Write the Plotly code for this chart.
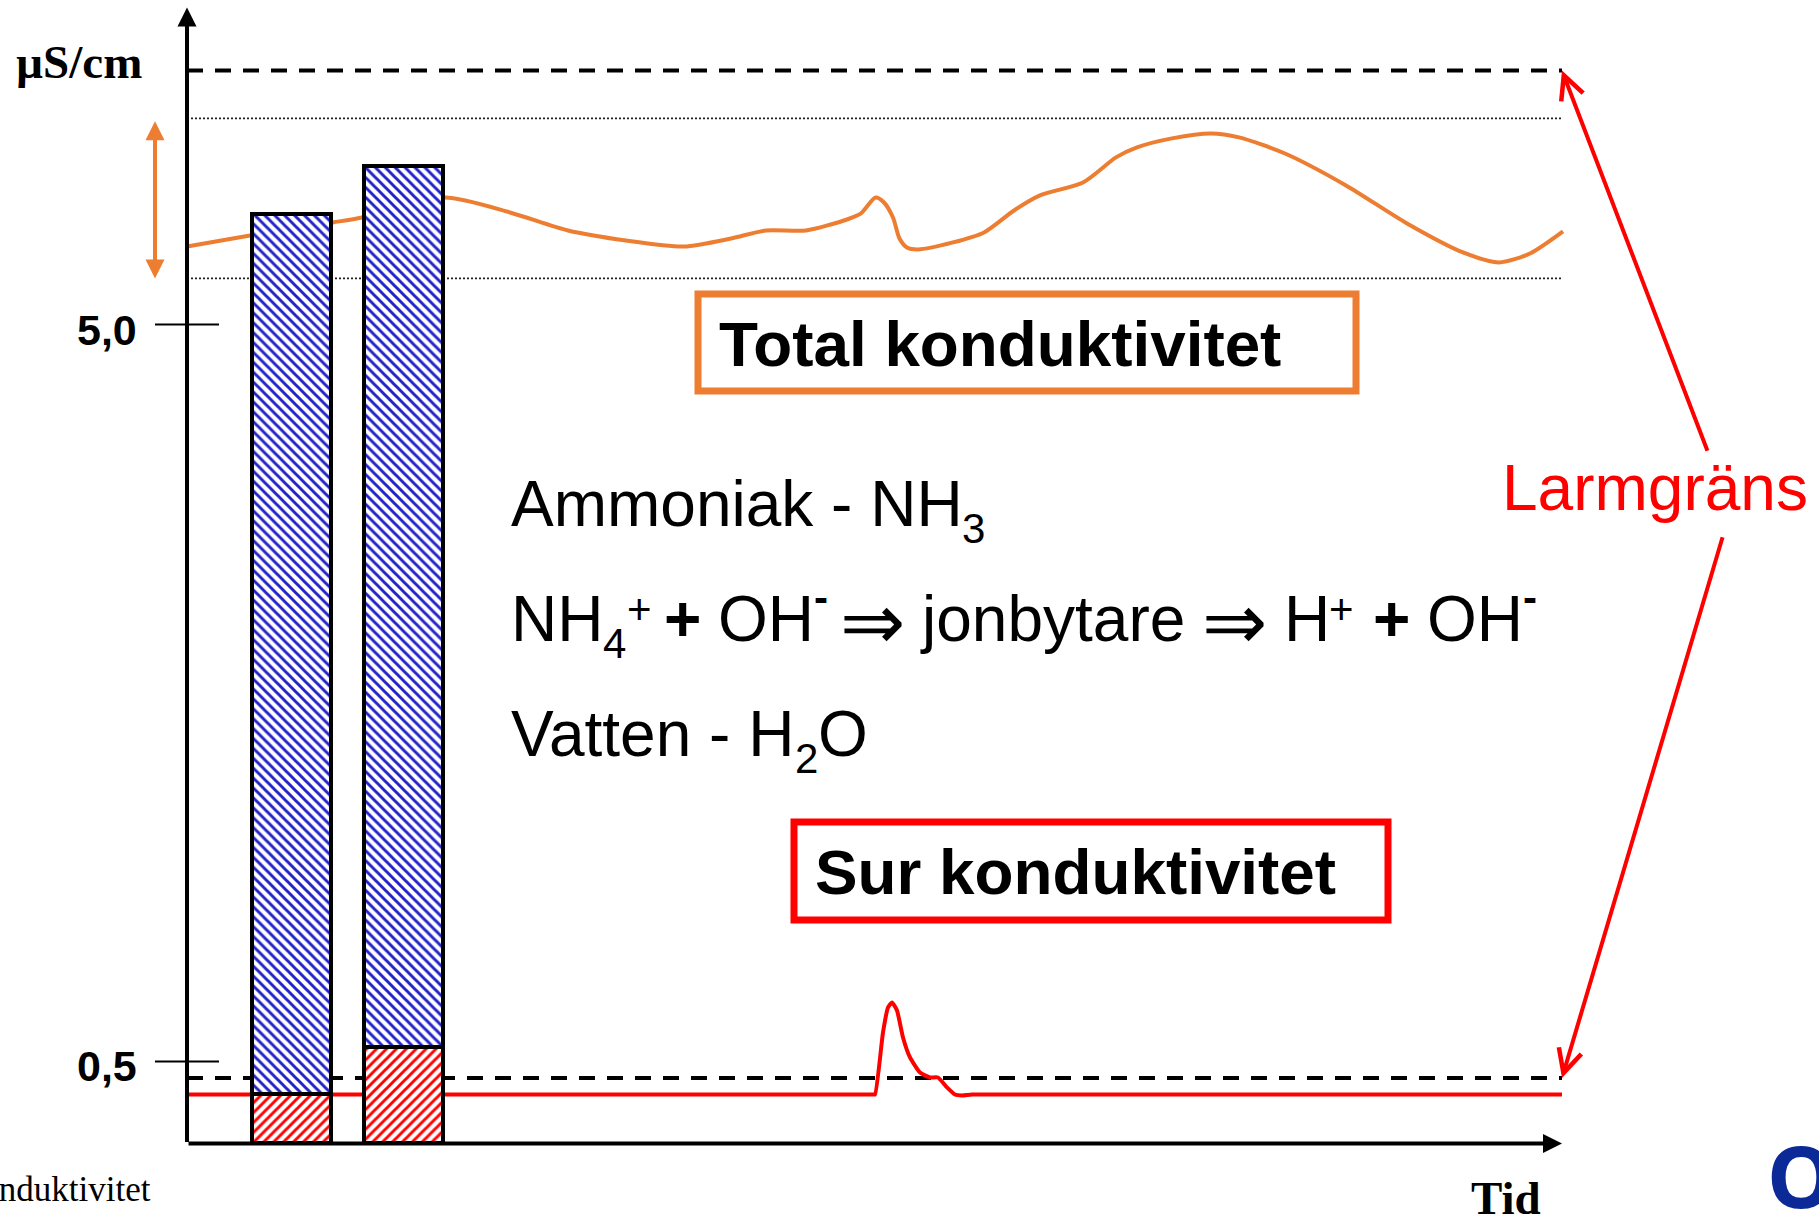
import plotly.graph_objects as go

W, H = 1819, 1218

# ---- data (x: time, arbitrary units; y: µS/cm) ----
total_t = [0, 0.63, 1.46, 1.75, 2.58, 3.23, 3.81, 4.39, 4.97, 5.44, 5.79, 6.19, 6.60, 6.74, 6.885, 6.97, 7.06,
           7.125, 7.20, 7.31, 7.66, 7.97, 8.27, 8.53, 8.96, 9.29, 9.50, 9.85, 10.24, 10.52, 10.98, 11.59,
           12.20, 12.76, 13.12, 13.43, 13.76]
total_v = [5.476, 5.543, 5.623, 5.653, 5.775, 5.684, 5.574, 5.513, 5.476, 5.525, 5.574, 5.574, 5.641, 5.678,
           5.775, 5.745, 5.653, 5.525, 5.470, 5.458, 5.501, 5.562, 5.696, 5.788, 5.867, 6.020, 6.081, 6.136,
           6.166, 6.142, 6.044, 5.849, 5.617, 5.440, 5.379, 5.433, 5.568]
sur_t = [0, 6.0, 6.86, 6.88, 6.96, 7.01, 7.05, 7.10, 7.16, 7.23, 7.33, 7.43, 7.51, 7.60, 7.68, 7.75, 7.85, 8.3, 10.0, 13.75]
sur_v = [0.299, 0.299, 0.299, 0.299, 0.678, 0.830, 0.861, 0.812, 0.647, 0.525, 0.433, 0.403, 0.403, 0.342, 0.299,
         0.293, 0.299, 0.299, 0.299, 0.299]
bar_t = [1.045, 2.16]
bar_sur = [0.30, 0.59]
bar_ammoniak = [5.375, 5.38]
alarm_limits = [6.55, 0.40]
band_limits = [6.258, 5.281]
tick_vals = [5.0, 0.5]
tick_text = ["5,0", "0,5"]
t_end = 13.75
y_top = 6.935

ORANGE = "#ED7D31"
RED = "#FF0000"
BLUE = "#2222C8"
SANS = "Liberation Sans"
SERIF = "Liberation Serif"

# pixel-to-axis frame: the plot area fills the page
x_range = [-1.87, 16.32]
y_range = [-0.455, 6.981]


def px(x):
    return x / W


def py(y):
    return 1 - y / H


fig = go.Figure()

for lim in alarm_limits:
    fig.add_trace(go.Scatter(x=[0, t_end], y=[lim, lim], mode="lines",
                             line=dict(color="black", width=4, dash="16px,12px")))
for lim in band_limits:
    fig.add_trace(go.Scatter(x=[0, t_end], y=[lim, lim], mode="lines",
                             line=dict(color="#222222", width=1.8, dash="2px,2px")))
for v in tick_vals:
    fig.add_trace(go.Scatter(x=[-0.32, 0.32], y=[v, v], mode="lines", line=dict(color="black", width=2)))

fig.add_trace(go.Scatter(x=total_t, y=total_v, mode="lines", line=dict(color=ORANGE, width=4, shape="spline", smoothing=0.7)))
fig.add_trace(go.Scatter(x=sur_t, y=sur_v, mode="lines", line=dict(color=RED, width=4, shape="spline", smoothing=0.5)))

line_style = dict(color="black", width=4)
fig.add_trace(go.Bar(x=bar_t, y=bar_sur, width=0.79, xaxis="x2", yaxis="y2",
                     marker=dict(color="white", opacity=1, line=line_style,
                                 pattern=dict(shape="/", fgcolor=RED, fgopacity=1, bgcolor="white",
                                              fillmode="replace", size=7, solidity=0.42))))
fig.add_trace(go.Bar(x=bar_t, y=bar_ammoniak, width=0.79, xaxis="x2", yaxis="y2",
                     marker=dict(color="white", opacity=1, line=line_style,
                                 pattern=dict(shape="\\", fgcolor=BLUE, fgopacity=1, bgcolor="white",
                                              fillmode="replace", size=7, solidity=0.42))))

ann = []


def text(x, y, s, size, family=SANS, color="black", anchor="left", bold=False):
    if bold:
        s = "<b>" + s + "</b>"
    ann.append(dict(x=px(x), y=py(y), xref="paper", yref="paper",
                    text=s, showarrow=False, xanchor=anchor, yanchor="middle",
                    font=dict(family=family, size=size, color=color)))


def base(x, baseline, s, size, **kw):
    text(x, baseline - 0.3 * size, s, size, **kw)


def arrow(x0, y0, x1, y1, color, width, head, side="end", size=0.95):
    ann.append(dict(x=x1, y=y1, ax=x0, ay=y0, xref="x", yref="y", axref="x", ayref="y", text="",
                    showarrow=True, arrowhead=head, arrowside=side, arrowsize=size,
                    arrowwidth=width, arrowcolor=color, startarrowhead=head, startarrowsize=size,
                    standoff=0, startstandoff=0))


# axes
arrow(0, 0, 0, y_top, "black", 4, 2)
arrow(0, 0, t_end, 0, "black", 4, 2)
# orange span arrow
arrow(-0.32, 6.25, -0.32, 5.28, ORANGE, 4, 2, side="end+start")
# alarm arrows
arrow(15.21, 4.22, t_end, alarm_limits[0], RED, 4, 5, size=1.15)
arrow(15.36, 3.71, t_end, alarm_limits[1], RED, 4, 5, size=1.15)

for v, s, yy in zip(tick_vals, tick_text, [330, 1066]):
    text(138.5, yy, s, 43, anchor="right", bold=True)

text(14, 62, "µS/cm", 47, family=SERIF, bold=True)
text(1469, 1198, "Tid", 47, family=SERIF, bold=True)
text(153, 1189, "Konduktivitet", 35, family=SERIF, anchor="right")

text(716.5, 344, "Total konduktivitet", 63.8, bold=True)
text(813, 872, "Sur konduktivitet", 63.8, bold=True)

# Line 1
base(509, 523, "Ammoniak - NH", 64)
base(960, 541, "3", 42)
# Line 2
base(509, 638.5, "NH", 64)
base(601, 656, "4", 42)
base(625, 622, "+", 42)
base(662, 638.5, "+", 64, bold=True)
base(716, 638.5, "OH", 64)
base(812, 610, "-", 42, bold=True)
text(838, 622, "⇒", 78)
base(918, 638.5, "jonbytare", 64)
text(1200, 622, "⇒", 78)
base(1282, 638.5, "H", 64)
base(1327, 622, "+", 42)
base(1371, 638.5, "+", 64, bold=True)
base(1425, 638.5, "OH", 64)
base(1521, 610, "-", 42, bold=True)
# Line 3
base(509, 753, "Vatten - H", 64)
base(793, 771, "2", 42)
base(816, 753, "O", 64)

text(1500, 488, "Larmgräns", 64, color=RED)
text(1765, 1174, "O", 86, family="Noto Sans", color="#0B2A97", bold=True)

shapes = [
    dict(type="rect", xref="paper", yref="paper", x0=px(698), x1=px(1356), y0=py(294), y1=py(391),
         line=dict(color=ORANGE, width=7), fillcolor="rgba(0,0,0,0)"),
    dict(type="rect", xref="paper", yref="paper", x0=px(794), x1=px(1388), y0=py(822), y1=py(920),
         line=dict(color=RED, width=7), fillcolor="rgba(0,0,0,0)"),
]

fig.update_layout(
    width=W, height=H, autosize=False, margin=dict(l=0, r=0, t=0, b=0, pad=0),
    paper_bgcolor="white", plot_bgcolor="rgba(0,0,0,0)", showlegend=False, barmode="stack",
    xaxis=dict(range=x_range, visible=False, fixedrange=True),
    yaxis=dict(range=y_range, visible=False, fixedrange=True),
    xaxis2=dict(range=x_range, visible=False, overlaying="x", fixedrange=True),
    yaxis2=dict(range=y_range, visible=False, overlaying="y", fixedrange=True),
    annotations=ann, shapes=shapes,
)

fig.write_html("out.html", config=dict(displayModeBar=False),
               post_script="document.body.style.margin='0';document.body.style.overflow='hidden';window.dispatchEvent(new Event('resize'));")
